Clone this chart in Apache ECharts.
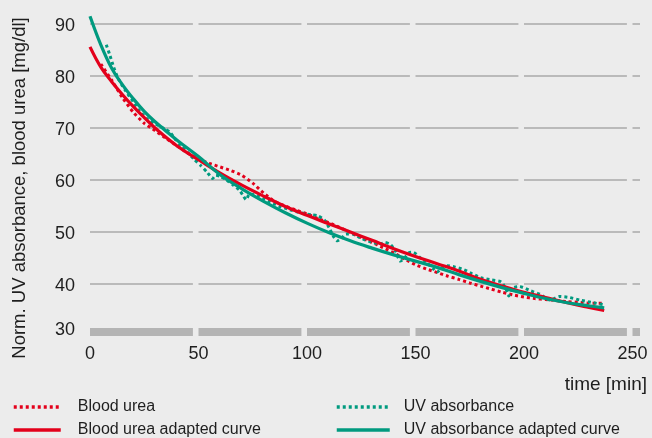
<!DOCTYPE html>
<html>
<head>
<meta charset="utf-8">
<script src="https://cdn.jsdelivr.net/npm/echarts@6/dist/echarts.min.js"></script>
<style>
html,body{margin:0;padding:0;background:#ececec;}
#chart{width:652px;height:438px;}
</style>
</head>
<body>
<div id="chart"></div>
<script>
// ---- data ----
const xTicks = [0, 50, 100, 150, 200, 250];
const yTicks = [30, 40, 50, 60, 70, 80, 90];

const fitX = [0, 5, 10, 15, 20, 25, 30, 40, 50, 60, 70, 80, 90, 100, 110, 120, 130, 140, 150, 160, 170, 180, 190, 200, 210, 220, 230, 237];
const bloodUreaFit = [85.6, 81.7, 78.9, 76.4, 74.1, 72.0, 70.0, 66.6, 63.9, 61.3, 59.0, 56.9, 54.9, 53.2, 51.6, 50.0, 48.4, 46.8, 45.3, 43.9, 42.5, 40.9, 39.6, 38.4, 37.4, 36.4, 35.5, 34.9];
const uvFit = [91.5, 86.0, 81.5, 78.3, 75.6, 73.2, 71.2, 67.7, 64.5, 61.0, 58.3, 55.9, 53.7, 51.7, 49.9, 48.3, 46.9, 45.6, 44.4, 43.2, 41.8, 40.5, 39.3, 38.2, 37.2, 36.4, 35.8, 35.4];

const bloodUreaX = [5, 10, 15, 20, 25, 30, 35, 40, 45, 50, 55, 60, 65, 70, 75, 80, 85, 90, 95, 100, 105, 110, 115, 120, 125, 130, 135, 140, 145, 150, 155, 160, 165, 170, 175, 180, 185, 190, 195, 200, 205, 210, 215, 220, 225, 230, 237];
const bloodUrea = [82.3, 79.2, 75.8, 73.0, 70.9, 69.5, 68.0, 66.6, 65.2, 64.0, 63.2, 62.5, 61.8, 60.9, 59.4, 57.5, 55.9, 55.0, 54.2, 53.5, 52.6, 51.8, 50.9, 49.9, 48.9, 48.0, 47.0, 46.0, 44.8, 43.7, 42.9, 42.2, 41.5, 40.9, 40.2, 39.6, 39.0, 38.4, 37.9, 37.5, 37.2, 37.0, 36.8, 36.6, 36.5, 36.3, 36.3];

const uvX = [7.5, 9, 11, 13, 16, 20, 23, 27, 30, 32, 35, 37, 39, 42, 45, 48, 51, 54, 56.5, 58, 60, 63, 66, 69, 70.7, 72, 73.5, 77, 82, 87, 92, 97, 102, 105, 108, 110.5, 112, 114, 116, 118, 121, 125, 130, 134, 136, 138.5, 141, 143, 145, 147, 149, 152, 155, 158, 160, 162, 164.5, 168, 172, 176, 180, 185, 189.5, 192, 193, 194.5, 198, 203, 207.5, 212, 216.5, 221, 226, 232, 237];
const uvAbsorbance = [86.0, 84.2, 81.6, 79.5, 77.4, 75.0, 73.2, 71.5, 70.8, 70.4, 69.7, 69.1, 68.0, 66.6, 65.3, 64.0, 62.8, 61.5, 60.3, 60.9, 60.7, 60.0, 59.0, 58.0, 56.9, 56.2, 57.3, 57.0, 56.0, 55.0, 54.3, 53.7, 53.3, 53.1, 52.3, 50.6, 49.3, 48.3, 48.8, 49.6, 49.6, 48.8, 48.0, 47.7, 48.0, 47.6, 46.2, 44.4, 45.0, 46.0, 46.1, 45.1, 44.2, 43.0, 42.3, 43.0, 43.5, 43.3, 42.8, 42.0, 41.2, 40.8, 40.4, 38.8, 37.7, 39.2, 39.5, 38.7, 38.0, 36.9, 37.6, 37.4, 36.9, 36.4, 36.0];

const seriesNames = ['Blood urea', 'Blood urea adapted curve', 'UV absorbance', 'UV absorbance adapted curve'];
const yAxisTitle = 'Norm. UV absorbance, blood urea [mg/dl]';
const xAxisTitle = 'time [min]';

// ---- build ----
const zip = (xs, ys) => xs.map((x, i) => [x, ys[i]]);
const RED = '#e3001b';
const GREEN = '#009a7f';
const FONT = 'Liberation Sans';
const TXT = '#1e1e1e';
const dashPattern = [102.9, 5.6];

function legendItem(name, left, top, w, pad) {
  return {
    data: [name], orient: 'horizontal', left: left, top: top, padding: 0,
    itemWidth: w, itemHeight: 16,
    itemStyle: {opacity: 0},
    lineStyle: {width: 3.5},
    textStyle: {fontFamily: FONT, fontSize: 16, lineHeight: 16, color: TXT, padding: [0, 0, 0, pad]}
  };
}

const chart = echarts.init(document.getElementById('chart'), null, {renderer: 'canvas'});
chart.setOption({
  backgroundColor: '#ececec',
  animation: false,
  textStyle: {fontFamily: FONT, color: TXT},
  grid: {left: 90, right: 12, top: 24, bottom: 102},
  legend: [
    legendItem(seriesNames[0], 12, 399, 47, 12),
    legendItem(seriesNames[1], 12, 422, 47, 12),
    legendItem(seriesNames[2], 335, 399, 53, 9),
    legendItem(seriesNames[3], 335, 422, 53, 9)
  ],
  xAxis: {
    type: 'value', min: 0, max: 253.5, interval: 50,
    offset: -4,
    name: xAxisTitle, nameLocation: 'end', nameGap: 7,
    nameTextStyle: {fontFamily: FONT, fontSize: 19, color: TXT, align: 'right', verticalAlign: 'top', padding: [43, 0, 0, 0]},
    axisLine: {show: true, lineStyle: {color: '#b4b4b4', width: 8, type: dashPattern, cap: 'butt'}},
    axisTick: {show: false},
    splitLine: {show: false},
    axisLabel: {
      fontFamily: FONT, fontSize: 18, color: TXT, margin: 13, showMaxLabel: false,
      formatter: v => (xTicks.indexOf(v) >= 0 ? String(v) : '')
    }
  },
  yAxis: {
    type: 'value', min: 30, max: 90, interval: 10,
    name: yAxisTitle, nameLocation: 'middle', nameGap: 61, nameRotate: 90,
    nameTextStyle: {fontFamily: FONT, fontSize: 18.5, color: TXT, padding: [0, 16, 0, 0]},
    axisLine: {show: false},
    axisTick: {show: false},
    splitLine: {show: true, showMinLine: false, lineStyle: {color: '#a9a9a9', width: 1.6, type: dashPattern}},
    axisLabel: {
      fontFamily: FONT, fontSize: 18, color: TXT, margin: 15,
      formatter: v => (yTicks.indexOf(v) < 0 ? '' : (v === 30 ? '{s|' + v + '}' : '{n|' + v + '}')),
      rich: {
        s: {fontFamily: FONT, fontSize: 18, color: TXT, padding: [0, 0, 12, 0]},
        n: {fontFamily: FONT, fontSize: 18, color: TXT, padding: [4, 0, 0, 0]}
      }
    }
  },
  series: [
    {
      name: seriesNames[0], type: 'line', data: zip(bloodUreaX, bloodUrea),
      showSymbol: false, symbol: 'none', smooth: 0.2, z: 3, clip: false,
      itemStyle: {color: RED},
      lineStyle: {color: RED, width: 3, type: [3, 3]}
    },
    {
      name: seriesNames[1], type: 'line', data: zip(fitX, bloodUreaFit),
      showSymbol: false, symbol: 'none', smooth: 0.4, z: 4, clip: false,
      itemStyle: {color: RED},
      lineStyle: {color: RED, width: 3.2}
    },
    {
      name: seriesNames[2], type: 'line', data: zip(uvX, uvAbsorbance),
      showSymbol: false, symbol: 'none', smooth: 0.2, z: 3, clip: false,
      itemStyle: {color: GREEN},
      lineStyle: {color: GREEN, width: 3, type: [3, 3]}
    },
    {
      name: seriesNames[3], type: 'line', data: zip(fitX, uvFit),
      showSymbol: false, symbol: 'none', smooth: 0.4, z: 4, clip: false,
      itemStyle: {color: GREEN},
      lineStyle: {color: GREEN, width: 3.2}
    }
  ]
});
</script>
</body>
</html>
